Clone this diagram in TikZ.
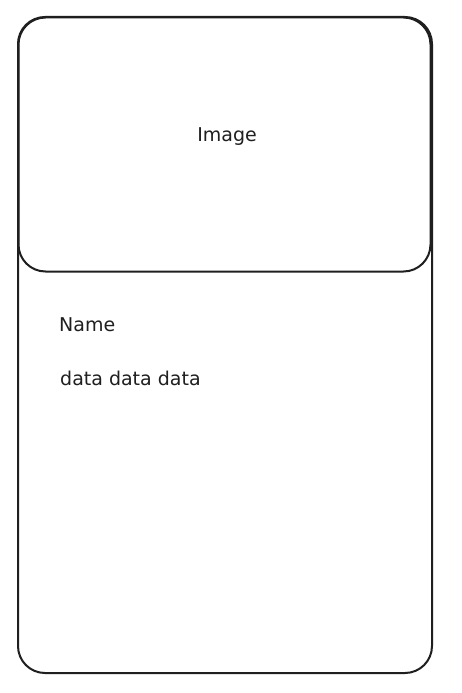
\documentclass[tikz,border=0pt]{standalone}
\usepackage{fontspec}
\setmainfont{DejaVu Sans}
\tikzset{
  sketch/.style={draw=black!88, line width=2pt, rounded corners=27pt},
  label/.style={font=\fontsize{19}{22}\selectfont, text=black!88, inner sep=0pt}
}
\begin{document}
\begin{tikzpicture}[x=1pt,y=-1pt]
\useasboundingbox[fill=white] (0,0) rectangle (462,693);
\node[sketch, minimum width=414pt, minimum height=656pt] (card) at (225,345) {};
\node[sketch, minimum width=412pt, minimum height=254pt] (image) at (224.5,144.5) {};
\node[label] (imagetext) at (227,137) {Image};
\node[label, anchor=west] (name) at (59,325) {Name};
\node[label, anchor=west] (data) at (60,378) {data data data};
\end{tikzpicture}
\end{document}
